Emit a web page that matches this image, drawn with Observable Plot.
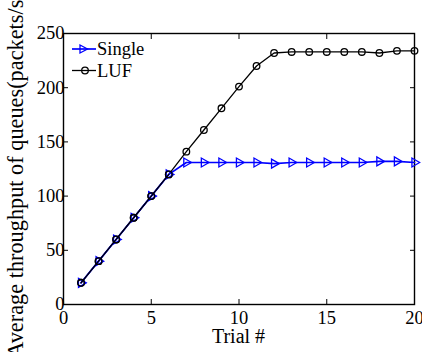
<!DOCTYPE html>
<html><head><meta charset="utf-8">
<script src="https://cdn.jsdelivr.net/npm/d3@7"></script>
<script src="https://cdn.jsdelivr.net/npm/@observablehq/plot@0.6"></script>
<style>
body{margin:0;background:#fff}
</style>
</head><body><div id="chart"></div>
<script>
const trials = [1,2,3,4,5,6,7,8,9,10,11,12,13,14,15,16,17,18,19,20];
const single = [20,40,60,80,100,120,131,131,131,131,131,130,131,131,131,131,131,132,132,131];
const luf = [20,40,60,80,100,120,141,161,181,201,220,232,233,233,233,233,233,232,234,234];
const xTicks = [0,5,10,15,20];
const yTicks = [0,50,100,150,200,250];
const seriesNames = ["Single","LUF"];
const xLabel = "Trial #";
const yLabel = "Average throughput of queues(packets/s)";

const rows = [];
trials.forEach((t,i)=>{rows.push({t, v: single[i], s: "Single"}); rows.push({t, v: luf[i], s: "LUF"});});
const blue = "#0000ff";
const font = "Liberation Serif, Times New Roman, serif";
const lufRows = rows.filter(d=>d.s==="LUF");
const singleRows = rows.filter(d=>d.s==="Single");

const chart = Plot.plot({
  width: 422, height: 352,
  marginLeft: 63, marginRight: 8, marginTop: 33, marginBottom: 48,
  style: {fontFamily: font, fontSize: "18.5px", color: "#000", background: "#fff"},
  x: {domain: [0,20], ticks: xTicks},
  y: {domain: [0,250], ticks: yTicks},
  marks: [
    Plot.axisX({ticks: xTicks, tickSize: -5, tickPadding: 11, label: null}),
    Plot.axisX({ticks: xTicks, anchor: "top", tickSize: -5, text: null, label: null}),
    Plot.axisY({ticks: yTicks, tickSize: -5, tickPadding: 4, label: null}),
    Plot.axisY({ticks: yTicks, anchor: "right", tickSize: -5, text: null, label: null}),
    Plot.frame({stroke: "#000", strokeWidth: 1.4}),
    Plot.line(lufRows, {x: "t", y: "v", stroke: "#000", strokeWidth: 1.3}),
    Plot.dot(lufRows, {x: "t", y: "v", stroke: "#000", r: 3.3, strokeWidth: 1.3}),
    Plot.line(singleRows, {x: "t", y: "v", stroke: blue, strokeWidth: 1.7}),
    Plot.dot(singleRows, {x: "t", y: "v", stroke: blue, symbol: "triangle", r: 3.3, strokeWidth: 1.3, rotate: 90}),
    Plot.line(lufRows.filter(d=>d.t<=6), {x: "t", y: "v", stroke: "#000", strokeWidth: 1.3}),
    Plot.dot(lufRows.filter(d=>d.t<=6), {x: "t", y: "v", stroke: "#000", r: 3.3, strokeWidth: 1.3})
  ]
});
document.getElementById("chart").appendChild(chart);

const svg = d3.select(chart);
svg.selectAll("text").style("font-size", "18.5px").style("font-family", font);
// axis labels
svg.append("text").attr("x", 238.5).attr("y", 343).attr("text-anchor", "middle")
  .style("font-family", font).style("font-size", "20px").attr("fill", "#000").text(xLabel);
svg.append("text").attr("transform", "translate(23,175) rotate(-90)").attr("text-anchor", "middle")
  .style("font-family", font).style("font-size", "22.3px").attr("fill", "#000").text(yLabel);

// legend
const g = svg.append("g").attr("text-anchor", "start");
const items = [{name: seriesNames[0], color: blue, sym: "tri"}, {name: seriesNames[1], color: "#000", sym: "circ"}];
items.forEach((it, i) => {
  const y = 49 + i * 21.5;
  g.append("line").attr("x1", 72).attr("x2", 96).attr("y1", y).attr("y2", y).attr("stroke", it.color).attr("stroke-width", it.sym==="tri"?1.7:1.3);
  if (it.sym === "tri") {
    g.append("path").attr("d", `M${80},${y-4} L${87.5},${y} L${80},${y+4} Z`).attr("fill", "none").attr("stroke", it.color).attr("stroke-width", 1.3);
  } else {
    g.append("circle").attr("cx", 85).attr("cy", y).attr("r", 3.3).attr("fill", "none").attr("stroke", it.color).attr("stroke-width", 1.3);
  }
  g.append("text").attr("x", 97).attr("y", y).attr("dy", "0.33em").attr("fill", "#000")
    .style("font-family", font).style("font-size", "18.5px").text(it.name);
});
</script>
</body></html>
